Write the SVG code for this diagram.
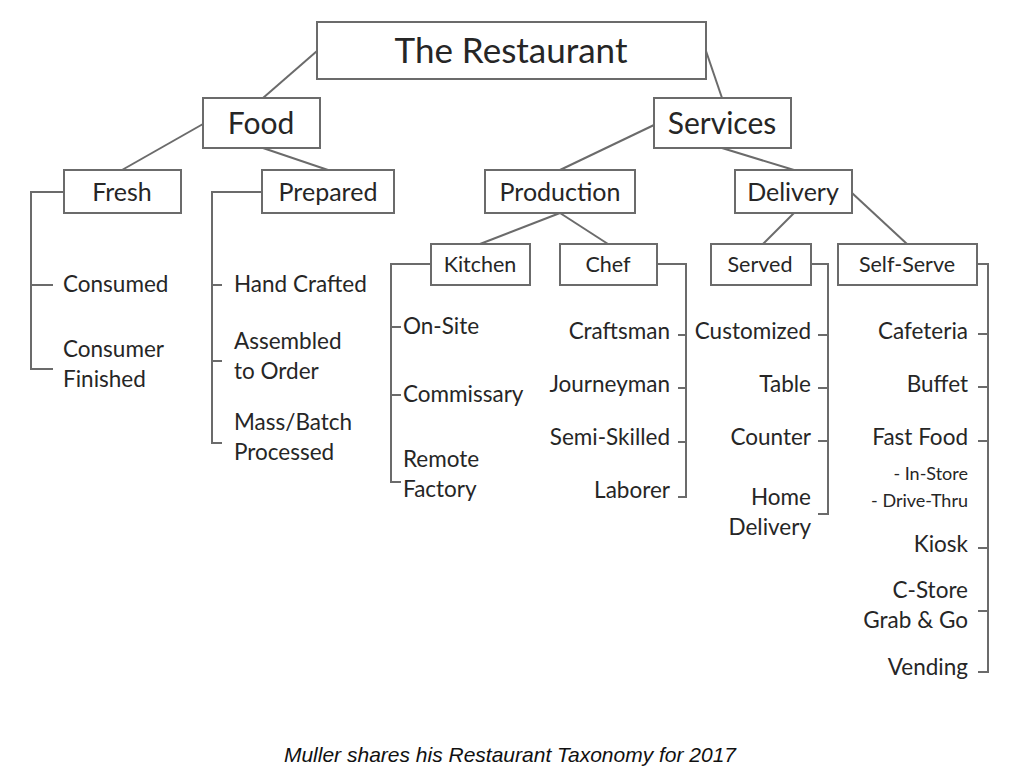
<svg xmlns="http://www.w3.org/2000/svg" width="1024" height="776" viewBox="0 0 1024 776">
<style>
.box{fill:#fff;stroke:#6b6b6b;stroke-width:2}
.ln{fill:none;stroke:#6b6b6b;stroke-width:2}
text{font-family:Lato,"Open Sans","DejaVu Sans",sans-serif;fill:#262626}
.t0{font-size:35px}
.t1{font-size:30px}
.t2{font-size:25px}
.t3{font-size:21.5px}
.it{font-size:22.5px}
.sm{font-size:18px}
.m{text-anchor:middle}
.r{text-anchor:end}
.cap{font-family:"Liberation Sans",Arial,sans-serif;font-style:italic;font-size:21px;fill:#111}
</style>
<rect width="1024" height="776" fill="#fff"/>
<g id="connectors">
<line class="ln" x1="317" y1="51" x2="263" y2="98"/>
<line class="ln" x1="706" y1="51" x2="722" y2="98"/>
<line class="ln" x1="203" y1="124" x2="122" y2="170"/>
<line class="ln" x1="263" y1="148" x2="328" y2="170"/>
<line class="ln" x1="654" y1="125" x2="560" y2="170"/>
<line class="ln" x1="722" y1="148" x2="794" y2="170"/>
<line class="ln" x1="560" y1="213" x2="480" y2="244"/>
<line class="ln" x1="560" y1="213" x2="608" y2="244"/>
<line class="ln" x1="794" y1="213" x2="763" y2="244"/>
<line class="ln" x1="852" y1="193" x2="907" y2="244"/>
<path class="ln" d="M64 192H31V369H53M31 285H53"/>
<path class="ln" d="M262 192H212V443H222M212 285H222M212 361H222"/>
<path class="ln" d="M431 264H391V482H401M391 327H401M391 395H401"/>
<path class="ln" d="M657 264H686V497H678M686 335H678M686 388H678M686 442H678"/>
<path class="ln" d="M811 264H828V514H818M828 335H818M828 388H818M828 441H818"/>
<path class="ln" d="M977 264H988V672H978M988 334H978M988 387H978M988 441H978M988 548H978M988 611H978"/>
</g>
<g id="restaurant"><rect class="box" x="317" y="22" width="389" height="57"/><text class="t0 m" x="511" y="63">The Restaurant</text></g>
<g id="food"><rect class="box" x="203" y="98" width="117" height="50"/><text class="t1 m" x="261" y="134">Food</text></g>
<g id="services"><rect class="box" x="654" y="98" width="137" height="50"/><text class="t1 m" x="722" y="134">Services</text></g>
<g id="fresh"><rect class="box" x="64" y="170" width="117" height="43"/><text class="t2 m" x="122" y="201">Fresh</text></g>
<g id="prepared"><rect class="box" x="262" y="170" width="132" height="43"/><text class="t2 m" x="328" y="201">Prepared</text></g>
<g id="production"><rect class="box" x="485" y="170" width="150" height="43"/><text class="t2 m" x="560" y="201">Production</text></g>
<g id="delivery"><rect class="box" x="735" y="170" width="117" height="43"/><text class="t2 m" x="793" y="201">Delivery</text></g>
<g id="kitchen"><rect class="box" x="431" y="244" width="99" height="41"/><text class="t3 m" x="480" y="272">Kitchen</text></g>
<g id="chef"><rect class="box" x="560" y="244" width="97" height="41"/><text class="t3 m" x="608" y="272">Chef</text></g>
<g id="served"><rect class="box" x="711" y="244" width="100" height="41"/><text class="t3 m" x="760" y="272">Served</text></g>
<g id="selfserve"><rect class="box" x="838" y="244" width="139" height="41"/><text class="t3 m" x="907" y="272">Self-Serve</text></g>
<g id="fresh-items">
<text class="it" x="63" y="292">Consumed</text>
<text class="it" x="63" y="357">Consumer</text>
<text class="it" x="63" y="387">Finished</text>
</g>
<g id="prepared-items">
<text class="it" x="234" y="292">Hand Crafted</text>
<text class="it" x="234" y="349">Assembled</text>
<text class="it" x="234" y="379">to Order</text>
<text class="it" x="234" y="430">Mass/Batch</text>
<text class="it" x="234" y="460">Processed</text>
</g>
<g id="kitchen-items">
<text class="it" x="403" y="334">On-Site</text>
<text class="it" x="403" y="402">Commissary</text>
<text class="it" x="403" y="467">Remote</text>
<text class="it" x="403" y="497">Factory</text>
</g>
<g id="chef-items">
<text class="it r" x="670" y="339">Craftsman</text>
<text class="it r" x="670" y="392">Journeyman</text>
<text class="it r" x="670" y="445">Semi-Skilled</text>
<text class="it r" x="670" y="498">Laborer</text>
</g>
<g id="served-items">
<text class="it r" x="811" y="339">Customized</text>
<text class="it r" x="811" y="392">Table</text>
<text class="it r" x="811" y="445">Counter</text>
<text class="it r" x="811" y="505">Home</text>
<text class="it r" x="811" y="535">Delivery</text>
</g>
<g id="selfserve-items">
<text class="it r" x="968" y="339">Cafeteria</text>
<text class="it r" x="968" y="392">Buffet</text>
<text class="it r" x="968" y="445">Fast Food</text>
<text class="sm r" x="968" y="480">- In-Store</text>
<text class="sm r" x="968" y="507">- Drive-Thru</text>
<text class="it r" x="968" y="552">Kiosk</text>
<text class="it r" x="968" y="598">C-Store</text>
<text class="it r" x="968" y="628">Grab &amp; Go</text>
<text class="it r" x="968" y="675">Vending</text>
</g>
<text class="cap m" x="510" y="762">Muller shares his Restaurant Taxonomy for 2017</text>
</svg>
